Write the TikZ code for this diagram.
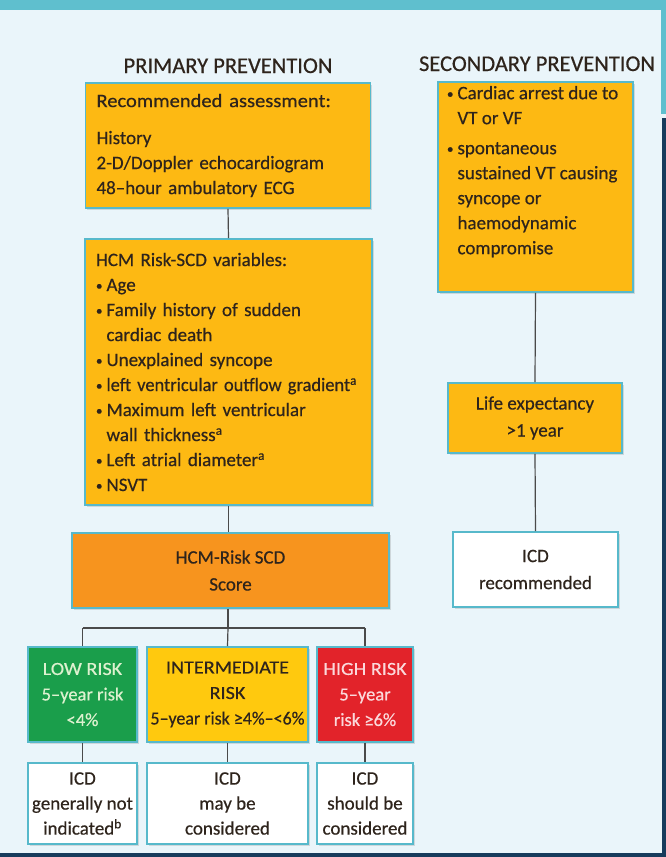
\documentclass[tikz,border=0pt]{standalone}
\usepackage{fontspec}
\usepackage{graphicx}
\setmainfont{Carlito}[FakeBold=0.5]
\usetikzlibrary{shadows}
\definecolor{bgc}{HTML}{EAF5FA}
\definecolor{topband}{HTML}{5FBFCE}
\definecolor{navy}{HTML}{173B5C}
\definecolor{gold}{HTML}{FDB913}
\definecolor{orangec}{HTML}{F7941E}
\definecolor{greenc}{HTML}{1A9E4B}
\definecolor{redc}{HTML}{E2232A}
\definecolor{yellowc}{HTML}{FFC90E}
\definecolor{edgec}{HTML}{57B9CB}
\definecolor{ink}{HTML}{2E241C}
\definecolor{lowtxt}{HTML}{DDF1CF}
\definecolor{hightxt}{HTML}{FBD9DB}
\definecolor{wirec}{HTML}{4A4A4A}
\newcommand{\bul}{\makebox[10.5pt][l]{\raisebox{1pt}{\fontsize{13}{13}\selectfont •}}}
\newcommand{\ind}{\hspace*{10.5pt}}
\newcommand{\wide}[1]{\scalebox{1.09}[1]{#1}}
\begin{document}
\begin{tikzpicture}[x=1pt,y=-1pt,
  box/.style={draw=edgec, line width=1.6pt, rectangle, inner sep=0pt, text=ink,
    font=\fontsize{19}{25}\selectfont,
    drop shadow={shadow xshift=1.5pt, shadow yshift=-1.5pt, opacity=0.25}},
  goldbox/.style={box, fill=gold},
  whitebox/.style={box, fill=white, align=center},
  riskbox/.style={box, align=center, font=\fontsize{18.5}{25.5}\selectfont},
  wire/.style={draw=wirec, line width=1.2pt},
  heading/.style={text=ink, font=\fontsize{22.5}{24}\selectfont, inner sep=0pt, anchor=base}
]
\useasboundingbox (0,0) rectangle (666,857);
\fill[bgc] (0,0) rectangle (666,857);
\fill[topband] (0,0) rectangle (666,10);
\fill[topband] (661,10) rectangle (666,114);
\fill[navy] (662,118) rectangle (666,857);
\fill[navy] (0,853) rectangle (666,857);

% headings
\node[heading] (t1) at (228,73) {PRIMARY PREVENTION};
\node[heading] (t2) at (537,71) {SECONDARY PREVENTION};

% primary column
\node[goldbox, minimum width=285, minimum height=125, text width=263, align=left] (b1) at (228,145.5)
  {\scalebox{1.08}[1]{Recommended assessment:}\\[12pt]
   History\\
   2-D/Doppler echocardiogram\\
   48–hour ambulatory ECG};
\node[goldbox, minimum width=287, minimum height=266, text width=265, align=left] (b2) at (228.5,372)
  {HCM Risk-SCD variables:\\
   \bul Age\\
   \bul Family history of sudden\\
   \ind cardiac death\\
   \bul Unexplained syncope\\
   \mbox{\bul\scalebox{0.97}[1]{left ventricular outflow gradient\textsuperscript{a}}}\\
   \bul Maximum left ventricular\\
   \ind wall thickness\textsuperscript{a}\\
   \bul Left atrial diameter\textsuperscript{a}\\
   \bul NSVT};
\node[box, fill=orangec, minimum width=317, minimum height=75, align=center,
      font=\fontsize{19}{27}\selectfont] (score) at (230.5,570.5)
  {HCM-Risk SCD\\Score};

\node[riskbox, fill=greenc, text=lowtxt, minimum width=109, minimum height=95] (low) at (82.5,694.5)
  {\wide{LOW RISK}\\5–year risk\\<4\%};
\node[riskbox, fill=yellowc, minimum width=161, minimum height=95] (mid) at (227.5,694.5)
  {\wide{INTERMEDIATE}\\\wide{RISK}\\\scalebox{0.97}[1]{5–year risk ≥4\%–<6\%}};
\node[riskbox, fill=redc, text=hightxt, minimum width=96, minimum height=95] (high) at (365,694.5)
  {\wide{HIGH RISK}\\5–year\\risk ≥6\%};

\node[whitebox, minimum width=109, minimum height=81] (icd1) at (82.5,803.5)
  {ICD\\generally not\\indicated\textsuperscript{b}};
\node[whitebox, minimum width=161, minimum height=81] (icd2) at (227.5,803.5)
  {ICD\\may be\\considered};
\node[whitebox, minimum width=96, minimum height=81] (icd3) at (365,803.5)
  {ICD\\should be\\considered};

% secondary column
\node[goldbox, minimum width=195, minimum height=210] (sec) at (535.5,187)
  {\parbox[c][202pt][t]{177pt}{\raggedright
   \bul Cardiac arrest due to\\
   \ind VT or VF\\[5pt]
   \bul spontaneous\\
   \ind sustained VT causing\\
   \ind syncope or\\
   \ind haemodynamic\\
   \ind compromise}};
\node[goldbox, minimum width=174, minimum height=70, align=center,
      font=\fontsize{19}{27}\selectfont] (life) at (535,418)
  {Life expectancy\\>1 year};
\node[whitebox, minimum width=165, minimum height=75, font=\fontsize{19}{27}\selectfont] (icdr) at (535.5,569.5)
  {ICD\\recommended};

% connectors
\coordinate (busM) at (228,628);
\coordinate (busL) at (82.5,628);
\coordinate (busR) at (365,628);
\draw[wire] (b1.south) -- (b2.north);
\draw[wire] (b2.south) -- (b2.south |- score.north);
\draw[wire] (score.south -| busM) -- (busM);
\draw[wire] (busL) -- (busR);
\draw[wire] (busL) -- (low.north);
\draw[wire] (busM) -- (mid.north);
\draw[wire] (busR) -- (high.north);
\draw[wire] (low.south) -- (icd1.north);
\draw[wire] (mid.south) -- (icd2.north);
\draw[wire] (high.south) -- (icd3.north);
\draw[wire] (sec.south) -- (life.north);
\draw[wire] (life.south) -- (icdr.north);
\end{tikzpicture}
\end{document}
